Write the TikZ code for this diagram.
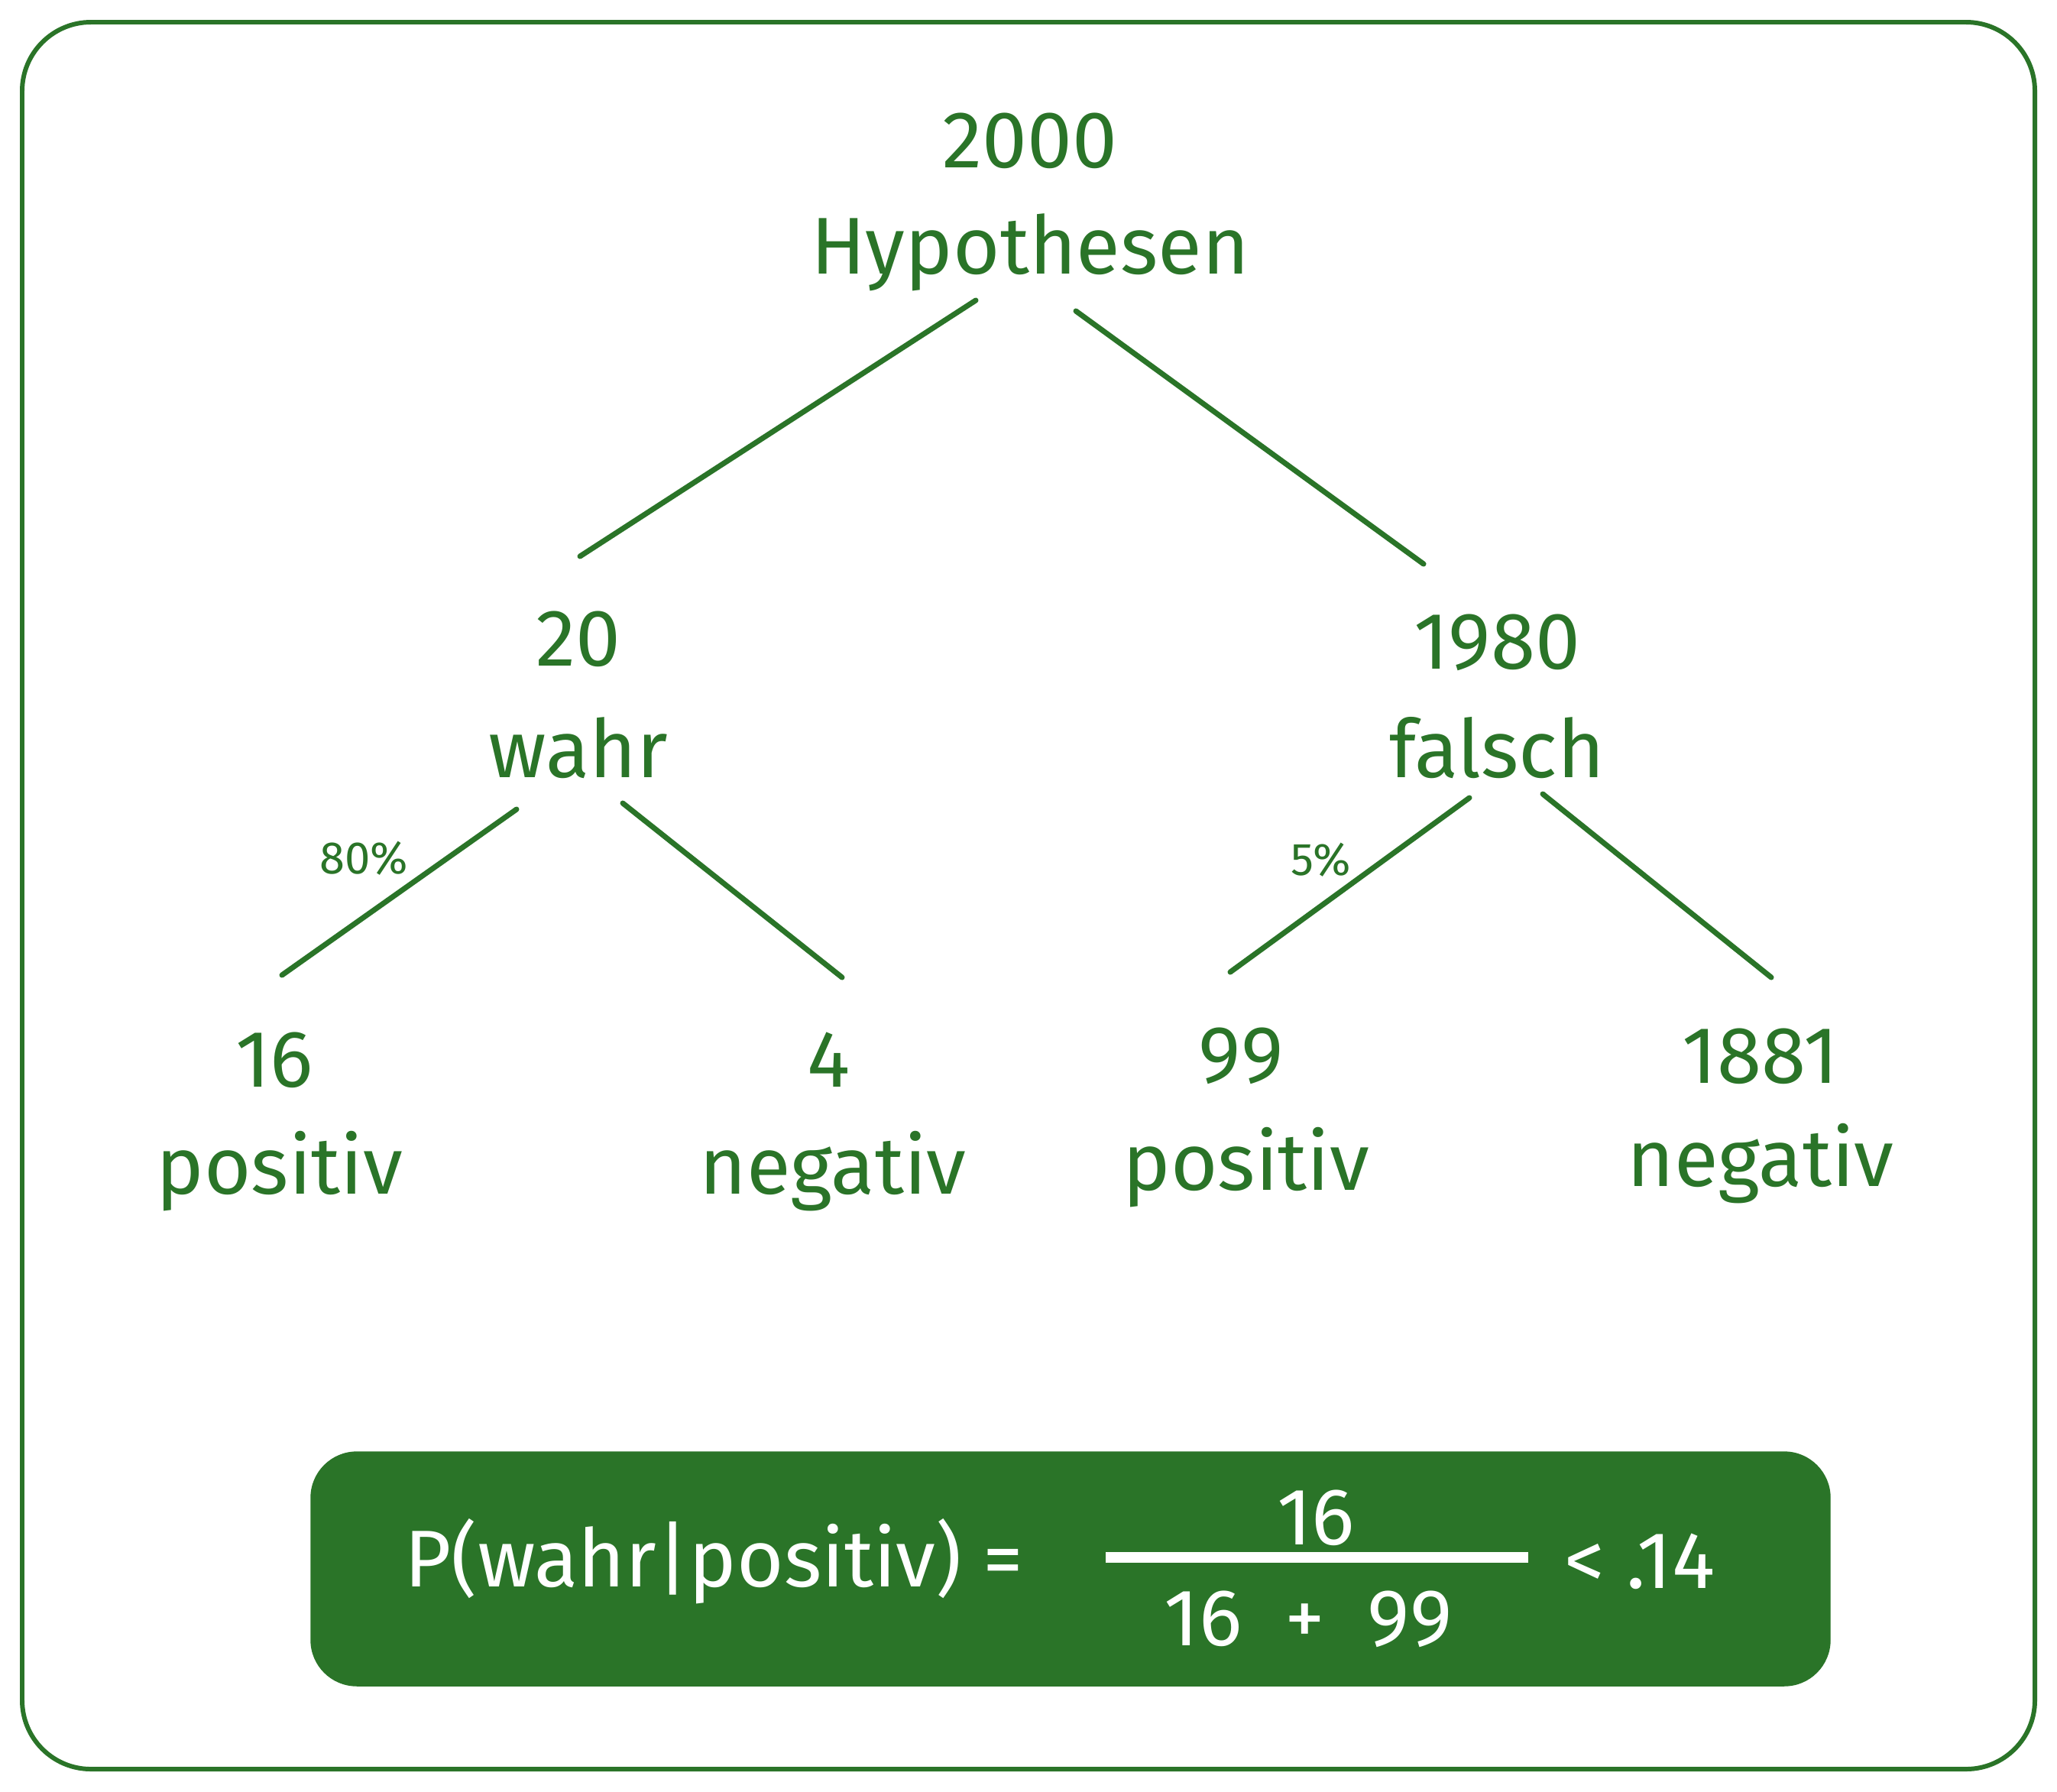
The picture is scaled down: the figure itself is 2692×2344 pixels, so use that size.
\documentclass[tikz,border=0pt]{standalone}
\usepackage{fontspec}
\setmainfont{Fira Sans}
\usepackage{xcolor}
\usepackage{tikz}
\usetikzlibrary{shapes,arrows,positioning,calc}

\definecolor{leaf}{RGB}{42,116,40}

\tikzset{
    lbl/.style={text=leaf, inner sep=0pt, font=\fontsize{30}{36}\selectfont},
    pct/.style={text=leaf, inner sep=0pt, font=\fontsize{17}{20}\selectfont},
    branch/.style={draw=leaf, line width=2pt, line cap=round},
    ftext/.style={text=white, inner sep=0pt, font=\fontsize{30}{36}\selectfont}
}

\begin{document}
\begin{tikzpicture}[x=0.1mm, y=-0.1mm]
                \useasboundingbox (0,0) rectangle (2692,2344);

                \draw[
                    draw=leaf,
                    line width=1.7pt,
                    rounded corners=9mm
                ] (29,29) rectangle (2663,2315);

                \node[lbl] (n2000) at (1348,184) {2000};
                \node[lbl] (hyp) at (1348,330) {Hypothesen};

                \node[lbl] (n20) at (757,836) {20};
                \node[lbl] (wahr) at (757,979) {wahr};

                \node[lbl] (n1980) at (1959,841) {1980};
                \node[lbl] (falsch) at (1959,979) {falsch};

                \node[lbl] (n16) at (359,1387) {16};
                \node[lbl] (pos1) at (366,1533) {positiv};

                \node[lbl] (n4) at (1085,1387) {4};
                \node[lbl] (neg1) at (1090,1533) {negativ};

                \node[lbl] (n99) at (1624,1382) {99};
                \node[lbl] (pos2) at (1631,1528) {positiv};

                \node[lbl] (n1881) at (2304,1382) {1881};
                \node[lbl] (neg2) at (2304,1523) {negativ};

                \node[pct] (p80) at (476,1123) {80\%};
                \node[pct] (p5) at (1729,1125) {5\%};

                \draw[branch] ($(hyp)+(-71,63)$) -- ($(n20)+(2,-108)$);
                \draw[branch] ($(hyp)+(60,77)$) -- ($(n1980)+(-96,-103)$);
                \draw[branch] ($(wahr)+(-81,80)$) -- ($(n16)+(10,-111)$);
                \draw[branch] ($(wahr)+(58,72)$) -- ($(n4)+(17,-108)$);
                \draw[branch] ($(falsch)+(-36,65)$) -- ($(n99)+(-14,-110)$);
                \draw[branch] ($(falsch)+(60,60)$) -- ($(n1881)+(14,-103)$);

                \draw[
                    draw=leaf,
                    fill=leaf,
                    rounded corners=6mm
                ] (407,1900) rectangle (2395,2206);

                \node[ftext, anchor=west] (lhs) at (529,2043) {P(wahr|positiv) =};
                \node[ftext] (numer) at (1722,1986) {16};
                \node[ftext] (denom) at (1712,2119) {16 \ + \ 99};
                \node[ftext] (rhs) at (2146,2043) {< .14};

                \draw[
                    draw=white,
                    line width=4pt
                ] (1447,2038) -- (2000,2038);

            \end{tikzpicture}
\end{document}
